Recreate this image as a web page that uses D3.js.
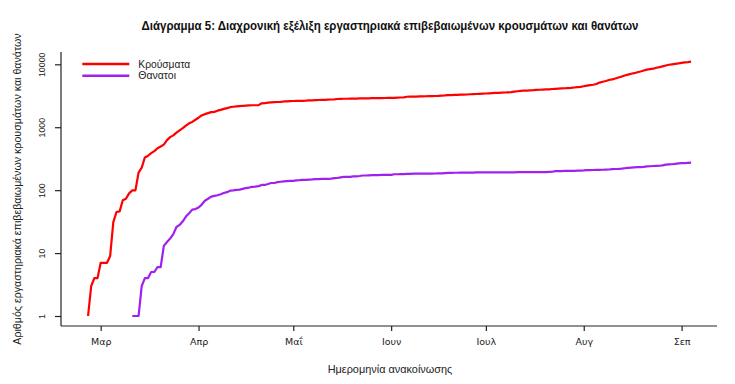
<!DOCTYPE html>
<html>
<head>
<meta charset="utf-8">
<script src="https://cdn.jsdelivr.net/npm/d3@7"></script>
<style>
  html, body { margin: 0; padding: 0; background: #fff; }
  svg { display: block; }
  text { font-family: "Liberation Sans", Arial, sans-serif; }
</style>
</head>
<body>
<svg id="chart" width="735" height="384"></svg>
<script>
// ---------------- DATA ----------------
const titleText = "Διάγραμμα 5: Διαχρονική εξέλιξη εργαστηριακά επιβεβαιωμένων κρουσμάτων και θανάτων";
const xAxisTitle = "Ημερομηνία ανακοίνωσης";
const yAxisTitle = "Αριθμός εργαστηριακά επιβεβαιωμένων κρουσμάτων και θανάτων";
const seriesNames = ["Κρούσματα", "Θανατοι"];
const seriesColors = ["#ff0000", "#a020f0"];
const monthTickLabels = ["Μαρ", "Απρ", "Μαΐ", "Ιουν", "Ιουλ", "Αυγ", "Σεπ"];
const yTickValues = [1, 10, 100, 1000, 10000];

// daily cumulative cases, starting 26 Feb 2020
const casesStart = "2020-02-26";
const cases = [
  1, 3, 4, 4,
  7, 7, 7, 9, 31, 45, 46, 69, 73, 89, 99, 99, 190, 228, 331, 352, 387, 418, 464, 495, 530, 624, 695, 743, 821, 892, 966, 1061, 1156, 1212, 1314,
  1415, 1544, 1613, 1673, 1735, 1755, 1832, 1884, 1955, 2011, 2081, 2114, 2145, 2170, 2192, 2207, 2224, 2235, 2235, 2245, 2401, 2408, 2463, 2490, 2506, 2517, 2534, 2566, 2576, 2591,
  2612, 2620, 2626, 2632, 2642, 2663, 2678, 2691, 2710, 2716, 2726, 2744, 2760, 2770, 2810, 2819, 2834, 2836, 2840, 2850, 2853, 2874, 2876, 2878, 2882, 2892, 2903, 2906, 2909, 2915, 2917,
  2918, 2937, 2952, 2967, 2980, 3049, 3058, 3060, 3072, 3083, 3088, 3108, 3112, 3121, 3134, 3148, 3189, 3203, 3227, 3237, 3256, 3266, 3287, 3302, 3310, 3340, 3366, 3376, 3390, 3409,
  3432, 3458, 3486, 3511, 3519, 3542, 3562, 3589, 3622, 3672, 3732, 3772, 3803, 3826, 3854, 3876, 3910, 3939, 3964, 3983, 4007, 4048, 4077, 4110, 4135, 4166, 4193, 4227, 4279, 4336, 4377,
  4477, 4587, 4662, 4737, 4855, 5123, 5270, 5421, 5623, 5749, 5942, 6177, 6381, 6632, 6858, 7075, 7222, 7472, 7684, 7959, 8229, 8381, 8516, 8819, 9034, 9280, 9558, 9842, 10000, 10145, 10317,
  10524, 10757, 10850, 11000
];

// daily cumulative deaths, starting 11 Mar 2020
const deathsStart = "2020-03-11";
const deaths = [
  1, 1, 1, 3, 4, 4, 5, 5, 6, 6, 13, 15, 17, 20, 26, 28, 32, 38, 43, 49, 50,
  53, 59, 68, 73, 79, 81, 83, 86, 90, 93, 98, 99, 101, 102, 105, 108, 110, 113, 114, 116, 121, 121, 125, 130, 130, 134, 136, 138, 139, 140,
  140, 143, 144, 146, 146, 147, 148, 150, 150, 151, 151, 151, 152, 155, 156, 160, 162, 163, 163, 165, 166, 168, 171, 171, 172, 173, 173, 173, 175, 175, 175,
  175, 179, 179, 180, 180, 182, 182, 183, 183, 183, 183, 183, 183, 183, 184, 185, 185, 187, 188, 188, 189, 189, 190, 190, 190, 190, 190, 191, 191, 192,
  192, 192, 192, 192, 192, 192, 192, 192, 192, 192, 193, 193, 193, 193, 193, 193, 194, 194, 194, 194, 195, 196, 200, 201, 201, 202, 202, 202, 203, 204, 205,
  206, 208, 208, 209, 210, 210, 211, 212, 213, 216, 217, 218, 220, 223, 226, 228, 230, 232, 233, 235, 238, 240, 242, 243, 244, 248, 254, 256, 258, 262, 266,
  268, 269, 271, 273
];

// ---------------- CHART ----------------
const parse = d3.timeParse("%Y-%m-%d");
function toPoints(startStr, values) {
  const s = parse(startStr);
  return values.map((v, i) => ({ date: d3.timeDay.offset(s, i), value: v }));
}
const series = [toPoints(casesStart, cases), toPoints(deathsStart, deaths)];

const svg = d3.select("#chart");
const plot = { left: 61, right: 717, top: 52, bottom: 326 };

const x = d3.scaleTime()
  .domain([new Date(2020, 1, 17, 10, 20), new Date(2020, 8, 12, 5, 0)])
  .range([plot.left, plot.right]);
const y = d3.scaleLog().domain([1, 10000]).range([316, 64.3]);

const axisColor = "#222";

// axis frame (L-shape)
svg.append("line").attr("x1", plot.left).attr("x2", plot.left)
  .attr("y1", plot.top).attr("y2", plot.bottom)
  .attr("stroke", axisColor).attr("stroke-width", 1.2);
svg.append("line").attr("x1", plot.left).attr("x2", plot.right)
  .attr("y1", plot.bottom).attr("y2", plot.bottom)
  .attr("stroke", axisColor).attr("stroke-width", 1.2);

// x axis
const monthTicks = d3.range(2, 9).map(m => new Date(2020, m, 1));
const xAxis = d3.axisBottom(x).tickValues(monthTicks)
  .tickFormat((d, i) => monthTickLabels[i]).tickSize(5).tickPadding(7);
const gx = svg.append("g").attr("transform", `translate(0,${plot.bottom})`).call(xAxis);
gx.select(".domain").remove();
gx.selectAll(".tick line").attr("stroke", axisColor).attr("stroke-width", 1.2);
gx.selectAll(".tick text").attr("fill", "#222").style("font-size", "9.5px")
  .style("font-family", "'DejaVu Sans', sans-serif").attr("dy", "0.71em");

// y axis
const yAxis = d3.axisLeft(y).tickValues(yTickValues).tickFormat(d3.format("d")).tickSize(6);
const gy = svg.append("g").attr("transform", `translate(${plot.left},0)`).call(yAxis);
gy.select(".domain").remove();
gy.selectAll(".tick line").attr("stroke", axisColor).attr("stroke-width", 1.2);
gy.selectAll(".tick text")
  .attr("x", null).attr("dy", null)
  .attr("text-anchor", "middle")
  .attr("transform", "translate(-16,0) rotate(-90)")
  .attr("fill", "#222")
  .style("font-size", "8.8px");

// lines
const line = d3.line().x(d => x(d.date)).y(d => y(d.value));
series.forEach((s, i) => {
  svg.append("path").datum(s)
    .attr("d", line)
    .attr("fill", "none")
    .attr("stroke", seriesColors[i])
    .attr("stroke-width", 2.2)
    .attr("stroke-linejoin", "round");
});

// helper: fit text to a width by scaling font-size
function fitFont(sel, base, width) {
  sel.style("font-size", base + "px");
  const w = sel.node().getComputedTextLength();
  sel.style("font-size", (base * width / w) + "px");
}

// title
svg.append("text")
  .attr("x", 390).attr("y", 30)
  .attr("text-anchor", "middle")
  .attr("font-weight", "bold")
  .attr("fill", "#111")
  .style("font-size", "13px")
  .attr("textLength", 497)
  .attr("lengthAdjust", "spacingAndGlyphs")
  .text(titleText);

// x axis title
const xt = svg.append("text")
  .attr("x", 390).attr("y", 373)
  .attr("text-anchor", "middle")
  .attr("fill", "#222")
  .text(xAxisTitle);
fitFont(xt, 10, 125);

// y axis title
const yt = svg.append("text")
  .attr("transform", `translate(21,${(plot.top + plot.bottom) / 2}) rotate(-90)`)
  .attr("text-anchor", "middle")
  .attr("fill", "#222")
  .text(yAxisTitle);
fitFont(yt, 9, 312);

// legend
const legendY = [64, 75.7];
seriesNames.forEach((name, i) => {
  svg.append("line")
    .attr("x1", 82.3).attr("x2", 129.3)
    .attr("y1", legendY[i]).attr("y2", legendY[i])
    .attr("stroke", seriesColors[i]).attr("stroke-width", 2.4);
  const t = svg.append("text")
    .attr("x", 138.3).attr("y", legendY[i] + 3.6)
    .attr("fill", "#222")
    .text(name);
  fitFont(t, 10, i === 0 ? 52 : 37.7);
});
</script>
</body>
</html>
